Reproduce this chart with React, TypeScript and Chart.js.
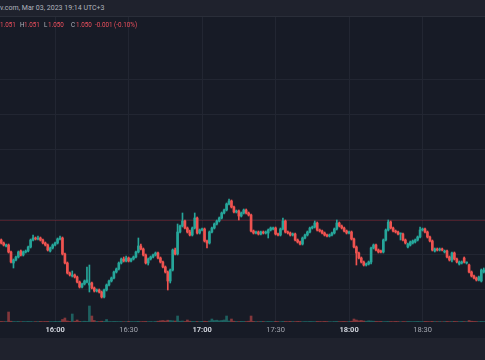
import React, { useEffect, useRef } from 'react';
import { Chart, registerables } from 'chart.js';

Chart.register(...registerables);

// ---- data (1-minute candles, prices in pipettes above BASE_PRICE) ----
const FIRST_TIME = '15:38';
const xTickLabels = ['16:00', '16:30', '17:00', '17:30', '18:00', '18:30'];
const BASE_PRICE = 1.048;
const PIP = 0.00001;

const openPts = [
  60, 57, 54, 55, 48, 37, 40, 43, 49, 45,
  48, 49, 53, 60, 62, 61, 62, 60, 57, 55,
  49, 52, 55, 57, 61, 62, 46, 37, 27, 24,
  25, 23, 18, 13, 16, 18, 15, 17, 12, 9,
  10, 8, 3, 10, 15, 19, 22, 28, 31, 37,
  41, 39, 42, 39, 41, 43, 48, 54, 51, 45,
  37, 41, 43, 45, 47, 42, 38, 33, 28, 19,
  30, 50, 46, 68, 74, 79, 72, 68, 65, 72,
  82, 67, 70, 71, 59, 57, 68, 72, 76, 79,
  82, 87, 90, 96, 99, 93, 88, 89, 84, 87,
  90, 87, 85, 69, 67, 68, 66, 68, 67, 67,
  70, 71, 72, 66, 65, 71, 79, 68, 67, 65,
  66, 60, 58, 56, 62, 65, 68, 72, 73, 77,
  70, 69, 67, 65, 64, 65, 67, 71, 77, 74,
  72, 69, 67, 68, 61, 53, 47, 42, 38, 35,
  36, 38, 52, 55, 50, 49, 48, 60, 70, 78,
  72, 69, 68, 66, 66, 60, 53, 55, 57, 58,
  60, 63, 70, 71, 68, 63, 59, 49, 51, 50,
  51, 48, 49, 43, 40, 47, 41, 36, 37, 42,
  37, 35, 28, 24, 22, 20, 19, 28,
];
const highPts = [
  61, 58, 56, 56, 49, 41, 44, 49, 50, 49,
  50, 54, 61, 65, 63, 64, 63, 61, 58, 56,
  53, 56, 58, 62, 64, 63, 47, 38, 28, 29,
  26, 24, 19, 17, 20, 33, 35, 18, 13, 11,
  11, 9, 11, 16, 20, 23, 29, 32, 38, 42,
  43, 44, 43, 42, 44, 49, 62, 56, 52, 46,
  42, 44, 46, 48, 48, 43, 39, 34, 29, 31,
  51, 52, 76, 75, 87, 80, 73, 70, 73, 87,
  83, 71, 72, 72, 60, 69, 73, 77, 80, 83,
  88, 91, 97, 101, 100, 94, 90, 90, 88, 91,
  91, 88, 86, 70, 69, 69, 69, 69, 69, 71,
  73, 73, 73, 67, 72, 82, 80, 69, 68, 67,
  67, 61, 59, 63, 66, 69, 73, 74, 79, 78,
  71, 70, 68, 66, 66, 68, 72, 80, 78, 75,
  73, 70, 69, 69, 62, 54, 48, 43, 39, 37,
  39, 53, 56, 56, 51, 50, 61, 71, 80, 79,
  73, 70, 69, 67, 67, 61, 57, 59, 60, 61,
  64, 73, 72, 72, 69, 64, 60, 52, 52, 52,
  52, 50, 50, 44, 48, 48, 42, 39, 39, 43,
  38, 36, 29, 25, 23, 24, 31, 32,
];
const lowPts = [
  56, 54, 53, 47, 37, 32, 39, 42, 44, 44,
  47, 48, 52, 59, 60, 60, 59, 56, 54, 49,
  48, 51, 54, 56, 60, 45, 36, 26, 24, 23,
  22, 17, 12, 12, 15, 17, 8, 11, 8, 8,
  7, 2, 2, 9, 14, 18, 21, 27, 30, 36,
  38, 38, 38, 38, 40, 42, 47, 50, 44, 36,
  35, 40, 42, 44, 41, 37, 32, 27, 10, 17,
  29, 45, 45, 67, 73, 71, 67, 64, 64, 71,
  66, 66, 69, 58, 52, 56, 67, 71, 75, 78,
  81, 86, 89, 95, 92, 87, 87, 80, 83, 86,
  86, 84, 68, 66, 66, 65, 65, 66, 66, 62,
  69, 70, 65, 64, 64, 70, 67, 66, 64, 64,
  59, 57, 55, 55, 61, 64, 67, 71, 72, 69,
  68, 66, 64, 63, 63, 64, 66, 70, 73, 71,
  68, 66, 66, 60, 52, 35, 41, 37, 34, 34,
  35, 36, 51, 49, 47, 47, 47, 59, 69, 71,
  68, 67, 65, 60, 59, 56, 52, 54, 56, 57,
  59, 62, 69, 67, 62, 58, 49, 48, 49, 49,
  49, 47, 42, 39, 38, 40, 37, 35, 36, 37,
  36, 27, 23, 21, 19, 19, 18, 27,
];
const closePts = [
  57, 55, 55, 48, 38, 40, 43, 48, 45, 48,
  49, 53, 60, 62, 61, 62, 60, 57, 55, 50,
  52, 55, 57, 61, 62, 46, 37, 27, 25, 25,
  23, 18, 13, 16, 19, 20, 17, 12, 9, 10,
  8, 3, 10, 15, 19, 22, 28, 31, 37, 41,
  39, 42, 39, 41, 43, 48, 54, 51, 45, 37,
  41, 43, 45, 47, 42, 38, 33, 28, 19, 30,
  50, 46, 68, 74, 79, 72, 68, 65, 72, 82,
  67, 70, 71, 59, 57, 68, 72, 76, 79, 82,
  87, 90, 96, 99, 93, 88, 89, 84, 87, 90,
  87, 85, 69, 67, 68, 66, 68, 67, 68, 70,
  72, 72, 66, 65, 71, 79, 68, 67, 65, 66,
  60, 58, 56, 62, 65, 68, 72, 73, 77, 70,
  69, 67, 65, 64, 65, 67, 71, 77, 74, 72,
  69, 67, 68, 61, 53, 47, 42, 38, 35, 36,
  38, 52, 55, 50, 48, 48, 60, 70, 78, 72,
  69, 68, 66, 66, 60, 57, 56, 58, 59, 60,
  63, 70, 71, 68, 63, 59, 50, 51, 50, 51,
  50, 49, 43, 40, 47, 41, 38, 38, 38, 38,
  37, 28, 24, 22, 20, 23, 30, 30,
];
const volumes = [
  6, 4, 5, 100, 8, 5, 4, 6, 3, 5,
  4, 6, 5, 3, 4, 5, 6, 4, 5, 6,
  5, 4, 6, 5, 8, 25, 40, 10, 6, 80,
  8, 20, 6, 5, 8, 6, 160, 60, 15, 6,
  5, 8, 6, 25, 5, 4, 6, 5, 4, 5,
  3, 4, 6, 5, 4, 5, 7, 4, 5, 6,
  4, 5, 3, 6, 8, 12, 15, 10, 18, 15,
  12, 10, 60, 8, 10, 6, 20, 8, 6, 5,
  6, 5, 7, 8, 6, 10, 30, 15, 18, 12,
  15, 20, 60, 10, 30, 8, 6, 5, 7, 6,
  5, 8, 60, 6, 5, 4, 6, 5, 4, 6,
  5, 4, 6, 5, 3, 6, 5, 4, 6, 5,
  4, 6, 5, 3, 5, 4, 6, 5, 4, 6,
  5, 4, 6, 5, 4, 3, 5, 6, 4, 5,
  6, 4, 5, 8, 30, 20, 12, 15, 10, 8,
  12, 10, 8, 6, 5, 6, 4, 5, 6, 5,
  4, 6, 5, 3, 5, 4, 6, 5, 4, 5,
  6, 5, 4, 6, 5, 4, 6, 5, 4, 5,
  3, 5, 6, 4, 5, 6, 5, 4, 6, 5,
  4, 15, 8, 6, 5, 4, 6, 5,
];
const gridPts = [10, 45, 80, 115, 150, 185, 220];
const refLinePts = 80;
const PRICE_MIN_PTS = -22;
const PRICE_MAX_PTS = 283;
const VOLUME_AXIS_MAX = 3050;

// ---- styles ----
const UP = '#26a69a';
const DOWN = '#ef5350';
const UP_VOL = 'rgba(38,166,154,0.5)';
const DOWN_VOL = 'rgba(239,83,80,0.5)';
const PANE_BG = '#171b26';
const BAR_BG = '#1f222d';
const GRID = '#222632';
const FONT = 'Roboto, "Noto Sans", sans-serif';

const toPrice = (p: number) => +(BASE_PRICE + p * PIP).toFixed(5);
const minuteLabel = (i: number) => {
  const [h, m] = FIRST_TIME.split(':').map(Number);
  const t = h * 60 + m + i;
  return `${Math.floor(t / 60)}:${String(t % 60).padStart(2, '0')}`;
};

const refLinePlugin = {
  id: 'refLine',
  beforeDatasetsDraw(chart: any) {
    const { ctx, chartArea } = chart;
    const y = Math.round(chart.scales.y.getPixelForValue(toPrice(refLinePts))) + 0.5;
    ctx.save();
    ctx.strokeStyle = 'rgba(242,54,69,0.24)';
    ctx.lineWidth = 1;
    ctx.beginPath();
    ctx.moveTo(chartArea.left, y);
    ctx.lineTo(chartArea.right, y);
    ctx.stroke();
    ctx.restore();
  },
};

export default function App() {
  const canvasRef = useRef<HTMLCanvasElement | null>(null);

  useEffect(() => {
    const n = closePts.length;
    const labels = Array.from({ length: n }, (_, i) => minuteLabel(i));
    const isUp = closePts.map((c, i) => c >= openPts[i]);
    const colors = isUp.map((u) => (u ? UP : DOWN));
    const volColors = isUp.map((u) => (u ? UP_VOL : DOWN_VOL));

    const bodies = openPts.map((o, i) => [
      toPrice(Math.min(o, closePts[i])),
      toPrice(Math.max(o, closePts[i])),
    ]);
    const wicks = lowPts.map((l, i) => [toPrice(l), toPrice(highPts[i])]);

    const chart = new Chart(canvasRef.current as HTMLCanvasElement, {
      type: 'bar',
      data: {
        labels,
        datasets: [
          {
            label: 'body',
            data: bodies as any,
            backgroundColor: colors,
            barThickness: 2,
            minBarLength: 1,
            grouped: false,
            order: 1,
            yAxisID: 'y',
            borderWidth: 0,
          } as any,
          {
            label: 'wick',
            data: wicks as any,
            backgroundColor: colors,
            barThickness: 1,
            grouped: false,
            order: 2,
            yAxisID: 'y',
            borderWidth: 0,
          } as any,
          {
            label: 'volume',
            data: volumes,
            backgroundColor: volColors,
            barThickness: 2,
            grouped: false,
            order: 3,
            yAxisID: 'yv',
            borderWidth: 0,
          } as any,
        ],
      },
      options: {
        animation: false,
        responsive: false,
        devicePixelRatio: 1,
        layout: { padding: 0 },
        plugins: { legend: { display: false }, tooltip: { enabled: false } },
        scales: {
          x: {
            type: 'category',
            offset: true,
            grid: { offset: false, color: GRID, drawTicks: false },
            border: { display: false },
            ticks: {
              autoSkip: false,
              maxRotation: 0,
              padding: 4,
              color: (ctx: any) =>
                ctx.tick && String(ctx.tick.label).endsWith(':00') ? '#d1d4dc' : '#a3a6af',
              font: (ctx: any) => ({
                family: FONT,
                size: 7.5,
                weight: ctx.tick && String(ctx.tick.label).endsWith(':00') ? 'bold' : 'normal',
              }),
            },
            afterBuildTicks: (axis: any) => {
              axis.ticks = axis.ticks.filter((t: any) => xTickLabels.includes(labels[t.value]));
            },
            afterFit: (axis: any) => {
              axis.height = 16;
            },
          } as any,
          y: {
            type: 'linear',
            min: toPrice(PRICE_MIN_PTS),
            max: toPrice(PRICE_MAX_PTS),
            grid: { color: GRID, drawTicks: false },
            border: { display: false },
            ticks: { display: false },
            afterBuildTicks: (axis: any) => {
              axis.ticks = gridPts.map((p) => ({ value: toPrice(p) }));
            },
            afterFit: (axis: any) => {
              axis.width = 0;
            },
          } as any,
          yv: {
            type: 'linear',
            display: false,
            min: 0,
            max: VOLUME_AXIS_MAX,
          },
        },
      },
      plugins: [refLinePlugin],
    });
    return () => chart.destroy();
  }, []);

  const red = '#f0505e';
  const grey = '#b2b5be';
  const legendStyle: React.CSSProperties = {
    position: 'absolute',
    top: 21,
    fontFamily: FONT,
    fontSize: 6.3,
    lineHeight: '9px',
    whiteSpace: 'nowrap',
  };

  return (
    <div
      style={{
        position: 'fixed',
        left: 0,
        top: 0,
        width: 485,
        height: 360,
        background: PANE_BG,
        overflow: 'hidden',
      }}
    >
      <div
        style={{
          position: 'absolute',
          left: 0,
          top: 0,
          width: 485,
          height: 17,
          background: BAR_BG,
          borderBottom: '1px solid #2a2e39',
          boxSizing: 'border-box',
        }}
      >
        <div
          style={{
            position: 'absolute',
            left: 0,
            top: 4,
            fontFamily: FONT,
            fontSize: 7,
            lineHeight: '9px',
            color: grey,
            whiteSpace: 'nowrap',
          }}
        >
          v.com, Mar 03, 2023 19:14 UTC+3
        </div>
      </div>
      <canvas
        ref={canvasRef}
        width={485}
        height={321}
        style={{ position: 'absolute', left: 0, top: 17, width: 485, height: 321, display: 'block' }}
      />
      <span style={{ ...legendStyle, left: 0, color: red }}>1.051</span>
      <span style={{ ...legendStyle, left: 20, color: grey }}>H</span>
      <span style={{ ...legendStyle, left: 24, color: red }}>1.051</span>
      <span style={{ ...legendStyle, left: 44, color: grey }}>L</span>
      <span style={{ ...legendStyle, left: 48, color: red }}>1.050</span>
      <span style={{ ...legendStyle, left: 71, color: grey }}>C</span>
      <span style={{ ...legendStyle, left: 76, color: red }}>1.050</span>
      <span style={{ ...legendStyle, left: 95, color: red }}>-0.001 (-0.10%)</span>
      <div
        style={{
          position: 'absolute',
          left: 0,
          top: 338,
          width: 485,
          height: 22,
          background: BAR_BG,
        }}
      />
    </div>
  );
}
